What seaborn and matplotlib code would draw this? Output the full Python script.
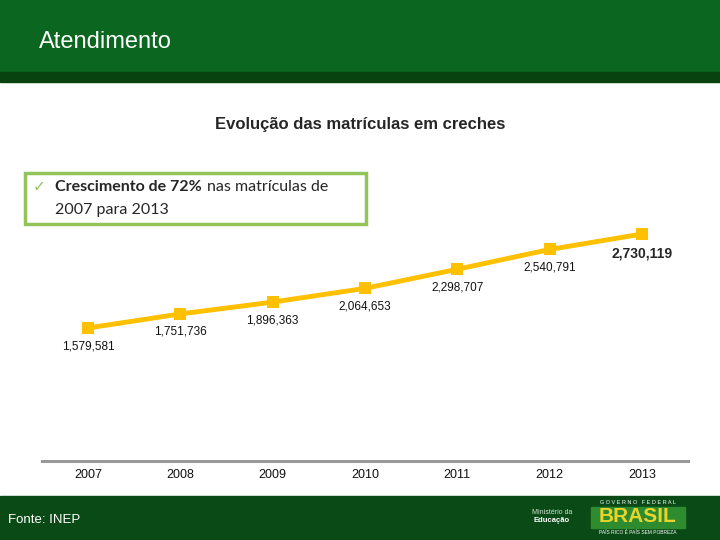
import matplotlib.pyplot as plt
import matplotlib.patches as mpatches
import seaborn as sns
import pandas as pd

years = ["2007", "2008", "2009", "2010", "2011", "2012", "2013"]
matriculas = [1579581, 1751736, 1896363, 2064653, 2298707, 2540791, 2730119]

header_title = "Atendimento"
chart_title = "Evolução das matrículas em creches"
source = "Fonte: INEP"

df = pd.DataFrame({"ano": years, "matriculas": matriculas})

sns.set_theme(style="white")
plt.rcParams["font.family"] = ["Liberation Sans", "DejaVu Sans"]

fig = plt.figure(figsize=(7.2, 5.4), dpi=100)
renderer = fig.canvas.get_renderer()

# header / footer bands
fig.patches.append(mpatches.Rectangle((0, 1 - 72 / 540), 1, 72 / 540, transform=fig.transFigure,
                                      color="#0b661f", zorder=0))
fig.patches.append(mpatches.Rectangle((0, 1 - 82 / 540), 1, 10 / 540, transform=fig.transFigure,
                                      color="#08420f", zorder=0))
fig.patches.append(mpatches.Rectangle((0, 0), 1, 44 / 540, transform=fig.transFigure,
                                      color="#0a4a16", zorder=0))

fig.text(39 / 720, 1 - 42 / 540, header_title, color="white", fontsize=17, va="center", ha="left")
fig.text(360 / 720, 1 - 124 / 540, chart_title, fontsize=12, fontweight="bold", ha="center", va="center")
fig.text(8 / 720, 1 - 520 / 540, source, color="white", fontsize=9.5, va="center")

# highlight box
fig.patches.append(mpatches.Rectangle((25 / 720, 1 - 224 / 540), 341 / 720, 51 / 540,
                                      transform=fig.transFigure, fill=False,
                                      edgecolor="#92c45a", linewidth=2.5))
fig.text(33 / 720, 1 - 187 / 540, "✓", color="#92c45a", fontsize=11, va="center",
         family=["DejaVu Sans"])
bold = fig.text(55 / 720, 1 - 187 / 540, "Crescimento de 72%", fontsize=11.5, fontweight="bold",
                va="center", family=["Lato", "DejaVu Sans"])
x_end = bold.get_window_extent(renderer=renderer).x1
fig.text((x_end + 5) / 720, 1 - 187 / 540, "nas matrículas de", fontsize=11.5,
         va="center", family=["Lato", "DejaVu Sans"])
fig.text(55 / 720, 1 - 210 / 540, "2007 para 2013", fontsize=11.5,
         va="center", family=["Lato", "DejaVu Sans"])

# logos (approximation)
fig.text(552 / 720, 1 - 512 / 540, "Ministério da", color="#cfe3cf", fontsize=5, ha="center", va="center")
fig.text(552 / 720, 1 - 520 / 540, "Educação", color="white", fontsize=5.5, fontweight="bold",
         ha="center", va="center")
fig.text(638 / 720, 1 - 503 / 540, "G O V E R N O   F E D E R A L", color="white", fontsize=4,
         ha="center", va="center")
fig.patches.append(mpatches.Rectangle((591 / 720, 1 - 528 / 540), 94 / 720, 21 / 540,
                                      transform=fig.transFigure, color="#2e8b2e", zorder=1))
fig.text(638 / 720, 1 - 517 / 540, "BRASIL", color="#e8d42a", fontsize=15, fontweight="bold",
         ha="center", va="center")
fig.text(638 / 720, 1 - 532 / 540, "PAÍS RICO É PAÍS SEM POBREZA", color="white", fontsize=3.5,
         ha="center", va="center")

# chart
ax = fig.add_axes([42 / 720, 1 - 461 / 540, 646 / 720, 249 / 540])
ax.patch.set_alpha(0)
sns.lineplot(data=df, x="ano", y="matriculas", ax=ax, color="#ffc000", linewidth=3.5,
             marker="s", markersize=8, markeredgewidth=0, sort=False)
ax.set_xlim(-0.5, 6.5)
ax.set_ylim(-50000, 3000000)
for i, v in enumerate(matriculas):
    label = f"{v:,}"
    if i == len(matriculas) - 1:
        ax.annotate(label, (i, v), xytext=(0, -14), textcoords="offset points", ha="center",
                    va="center", fontsize=10, fontweight="bold")
    else:
        ax.annotate(label, (i, v), xytext=(0, -13), textcoords="offset points", ha="center",
                    va="center", fontsize=8.5, color="#111111")

for s in ["top", "left", "right"]:
    ax.spines[s].set_visible(False)
ax.spines["bottom"].set_color("#999999")
ax.spines["bottom"].set_linewidth(2.2)
ax.set_yticks([])
ax.set_xlabel("")
ax.set_ylabel("")
ax.tick_params(axis="x", length=0, pad=6, labelsize=9, labelcolor="#111111")

fig.savefig("out.png", dpi=100)
